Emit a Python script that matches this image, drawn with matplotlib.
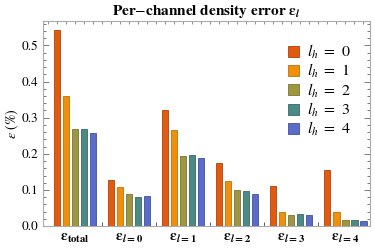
import numpy as np
import matplotlib
matplotlib.use('Agg')
import matplotlib.pyplot as plt
from matplotlib.ticker import MultipleLocator

#%% fonts, Times-like like the Mathematica original
plt.rcParams['font.family'] = 'STIXGeneral'
plt.rcParams['mathtext.fontset'] = 'stix'

#%% data (errors in %)
groups = [r'$\mathbf{\epsilon}_{\mathbf{total}}$', r'$\mathbf{\epsilon}_{\mathbfit{l}\mathbf{=0}}$',
          r'$\mathbf{\epsilon}_{\mathbfit{l}\mathbf{=1}}$', r'$\mathbf{\epsilon}_{\mathbfit{l}\mathbf{=2}}$',
          r'$\mathbf{\epsilon}_{\mathbfit{l}\mathbf{=3}}$', r'$\mathbf{\epsilon}_{\mathbfit{l}\mathbf{=4}}$']
series_labels = [r'$l_h\ =\ 0$', r'$l_h\ =\ 1$', r'$l_h\ =\ 2$', r'$l_h\ =\ 3$', r'$l_h\ =\ 4$']
lh0 = [0.542, 0.128, 0.320, 0.175, 0.112, 0.156]
lh1 = [0.360, 0.107, 0.265, 0.126, 0.039, 0.039]
lh2 = [0.268, 0.089, 0.193, 0.100, 0.030, 0.016]
lh3 = [0.268, 0.081, 0.197, 0.098, 0.033, 0.016]
lh4 = [0.258, 0.083, 0.188, 0.088, 0.031, 0.015]
series = [lh0, lh1, lh2, lh3, lh4]

colors = ['#E05A10', '#F0900A', '#9E9640', '#4C8A86', '#5A6CC8']
edges = ['#B0400A', '#C07008', '#7A7430', '#366A66', '#4050A0']

#%% plot
fig = plt.figure(figsize=(3.75, 2.49), dpi=100)
ax = fig.add_axes([0.114, 0.092, 0.873, 0.824])

n_series = len(series)
pitch = n_series + 1
for k in range(n_series):
    xs = np.arange(len(groups)) * pitch + k
    ax.bar(xs, series[k], width=0.7, color=colors[k], edgecolor=edges[k],
           linewidth=0.6, label=series_labels[k])

ax.set_xlim(-1.6, 34.75)
ax.set_ylim(0, 0.568)

# y ticks both sides, Mathematica-ish
ax.yaxis.set_minor_locator(MultipleLocator(0.02))
ax.set_yticks(np.arange(0, 0.51, 0.1))
ax.set_yticklabels(['0.0', '0.1', '0.2', '0.3', '0.4', '0.5'])
ax.tick_params(axis='y', which='both', direction='in', right=True, labelsize=9.5, colors='#444444',
               labelcolor='black')
ax.tick_params(axis='y', which='major', length=4, width=0.5)
ax.tick_params(axis='y', which='minor', length=2, width=0.5)

# group labels at bottom, small ticks at group separators and on top at each bar
centers = np.arange(len(groups)) * pitch + (n_series - 1) / 2
ax.set_xticks(centers)
ax.set_xticklabels(groups, fontsize=11)
ax.set_xticks(np.arange(len(groups) - 1) * pitch + n_series, minor=True)
ax.tick_params(axis='x', which='major', length=0, pad=4)
ax.tick_params(axis='x', which='minor', direction='in', length=3, width=0.6, colors='#444444')
top = ax.secondary_xaxis('top')
top.set_xticks(np.arange(-1, 35))
top.set_xticklabels([])
top.tick_params(direction='in', length=2, width=0.5, colors='#666666')

for s in ax.spines.values():
    s.set_color('#AAAAAA')
    s.set_linewidth(0.8)
top.spines['top'].set_visible(False)

ax.set_ylabel(r'$\epsilon$ (%)', fontsize=10, labelpad=0)
ax.set_title(r'Per$-$channel density error $\mathbf{\epsilon}_{\mathbfit{l}}$', fontsize=11,
             fontweight='bold', pad=4)

ax.legend(loc='upper left', bbox_to_anchor=(0.73, 0.925), frameon=False, fontsize=11.5,
          handlelength=0.7, handleheight=0.7, handletextpad=0.5, labelspacing=0.08,
          borderaxespad=0)

plt.savefig('out.png', dpi=100)
